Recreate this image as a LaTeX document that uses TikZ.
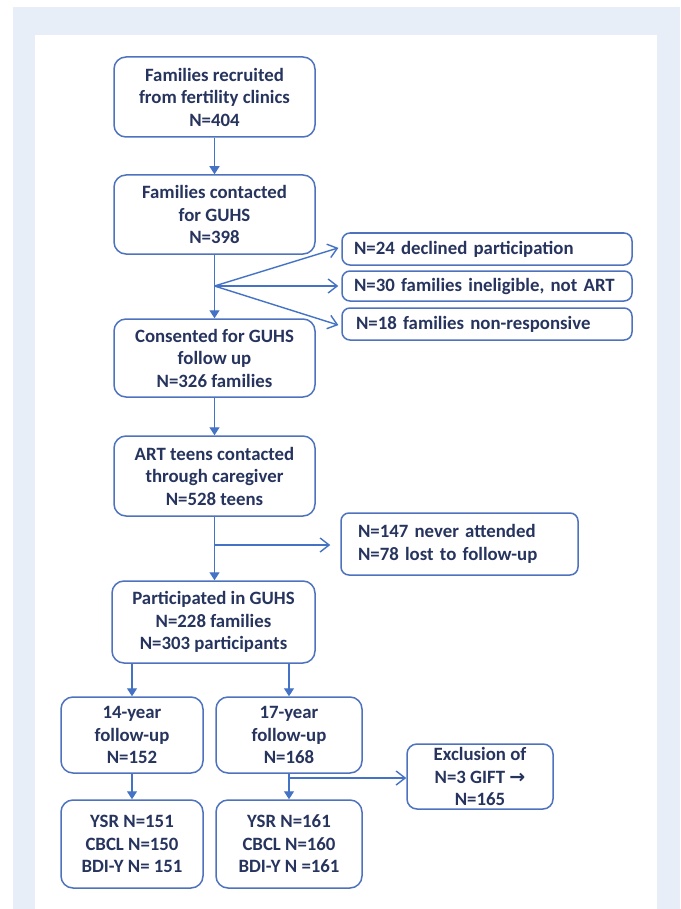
\documentclass[tikz,border=0pt]{standalone}
\usepackage{fontspec}
\setmainfont{Carlito}
\newfontfamily\symf{DejaVu Sans}
\usetikzlibrary{arrows.meta}
\definecolor{bgblue}{RGB}{231,238,247}
\definecolor{bord}{RGB}{79,114,190}
\definecolor{arrc}{RGB}{68,114,196}
\definecolor{txt}{RGB}{38,52,94}
\begin{document}
\begin{tikzpicture}[x=1pt,y=-1pt,
  box/.style={draw=bord,line width=1.5pt,rounded corners=12pt,fill=white,inner sep=0pt,
    align=center,text=txt,font=\bfseries\fontsize{18.8}{22.5}\selectfont},
  sidebox/.style={box,rounded corners=8pt,align=left},
  arr/.style={draw=arrc,line width=1.4pt,-{Triangle[length=8pt,width=10pt]}},
  sarr/.style={draw=arrc,line width=1.4pt,-{Straight Barb[length=9pt,width=14pt,line width=1.4pt]}}
]
\useasboundingbox (0,0) rectangle (680,909);
\fill[white] (0,0) rectangle (680,909);
\fill[bgblue] (13,7) rectangle (680,909);
\fill[white] (35,35) rectangle (657,909);

\node[box,minimum width=201pt,minimum height=80pt] (B1) at (214.5,97)
  {Families recruited\\from fertility clinics\\N=404};
\node[box,minimum width=201pt,minimum height=79pt] (B2) at (214.5,214.5)
  {Families contacted\\for GUHS\\N=398};
\node[box,minimum width=201pt,minimum height=78pt] (B3) at (214.5,358)
  {Consented for GUHS\\follow up\\N=326 families};
\node[box,minimum width=201pt,minimum height=80pt] (B4) at (214.5,476)
  {ART teens contacted\\through caregiver\\N=528 teens};
\node[box,minimum width=203pt,minimum height=82pt] (B5) at (213.5,622)
  {Participated in GUHS\\N=228 families\\N=303 participants};
\node[box,minimum width=142pt,minimum height=76pt] (Y14) at (132,735)
  {14-year\\follow-up\\N=152};
\node[box,minimum width=146pt,minimum height=76pt] (Y17) at (289,735)
  {17-year\\follow-up\\N=168};
\node[box,minimum width=142pt,minimum height=88pt] (M14) at (132,844)
  {YSR N=151\\CBCL N=150\\BDI-Y N= 151};
\node[box,minimum width=146pt,minimum height=88pt] (M17) at (289,844)
  {YSR N=161\\CBCL N=160\\BDI-Y N =161};
\node[box,rounded corners=10pt,minimum width=146pt,minimum height=65pt] (EX) at (480,776.5)
  {Exclusion of\\N=3 GIFT {\symf\bfseries\fontsize{19}{22.5}\selectfont →}\\N=165};

\node[sidebox,inner xsep=12pt,text width=266pt,minimum height=32pt] (R1) at (487,249)
  {N=24 declined participation};
\node[sidebox,inner xsep=12pt,text width=266pt,minimum height=30pt] (R2) at (487,286)
  {N=30 families ineligible, not ART};
\node[sidebox,inner xsep=14pt,text width=262pt,minimum height=32pt] (R3) at (487,324)
  {N=18 families non-responsive};
\node[sidebox,inner xsep=17pt,text width=203pt,minimum height=62pt] (R4) at (459.5,544)
  {N=147 never attended\\N=78 lost to follow-up};

\coordinate (s1) at (214.5,286);
\coordinate (s2) at (214.5,545);
\coordinate (s3) at (289,778);

\draw[arr] (B1) -- (B2);
\draw[arr] (B2) -- (B3);
\draw[sarr,shorten >=3pt] (s1) -- ([yshift=2pt]R1.west);
\draw[sarr,shorten >=3pt] (s1) -- (R2.west);
\draw[sarr,shorten >=3pt] (s1) -- ([yshift=-2pt]R3.west);
\draw[arr] (B3) -- (B4);
\draw[arr] (B4.south) -- (B4.south |- B5.north);
\draw[sarr,shorten >=10pt] (s2) -- (s2 -| R4.west);
\draw[arr] (Y14.north |- B5.south) -- (Y14.north);
\draw[arr] (Y17.north |- B5.south) -- (Y17.north);
\draw[arr] (Y14) -- (M14);
\draw[arr] (Y17) -- (M17);
\draw[sarr] (s3) -- (s3 -| EX.west);
\end{tikzpicture}
\end{document}
